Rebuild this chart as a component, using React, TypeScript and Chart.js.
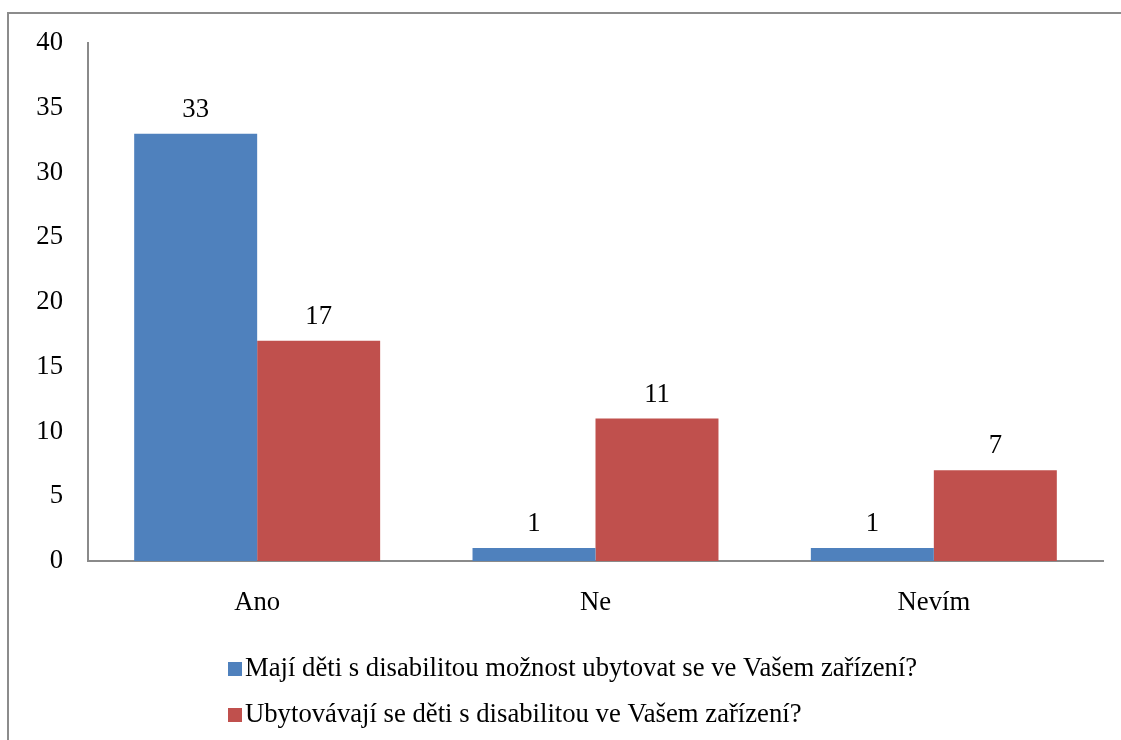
import React, { useEffect, useRef } from "react";
import { Chart, registerables } from "chart.js";

Chart.register(...registerables);

const categories = ["Ano", "Ne", "Nevím"];
const seriesNames = [
  "Mají děti s disabilitou možnost ubytovat se ve Vašem zařízení?",
  "Ubytovávají se děti s disabilitou ve Vašem zařízení?",
];
const seriesA = [33, 1, 1];
const seriesB = [17, 11, 7];
const colors = ["#4F81BD", "#C0504D"];
const yMin = 0;
const yMax = 40;
const yStep = 5;

const FONT = "'Liberation Serif', 'Times New Roman', serif";
const FONT_SIZE = 26.7;

const valueLabels = {
  id: "valueLabels",
  afterDatasetsDraw(chart: any) {
    const ctx = chart.ctx;
    ctx.save();
    ctx.font = `${FONT_SIZE}px ${FONT}`;
    ctx.fillStyle = "#000";
    ctx.textAlign = "center";
    ctx.textBaseline = "alphabetic";
    chart.data.datasets.forEach((ds: any, i: number) => {
      const meta = chart.getDatasetMeta(i);
      meta.data.forEach((bar: any, j: number) => {
        ctx.fillText(String(ds.data[j]), bar.x, bar.y - 17);
      });
    });
    ctx.restore();
  },
};

const customLegend = {
  id: "customLegend",
  afterDraw(chart: any) {
    const ctx = chart.ctx;
    const area = chart.chartArea;
    ctx.save();
    ctx.font = `${FONT_SIZE}px ${FONT}`;
    ctx.textBaseline = "alphabetic";
    ctx.textAlign = "left";
    const x0 = 228;
    chart.data.datasets.forEach((ds: any, i: number) => {
      const base = area.bottom + 115 + i * 46;
      ctx.fillStyle = ds.backgroundColor;
      ctx.fillRect(x0, base - 14, 14, 14);
      ctx.fillStyle = "#000";
      ctx.fillText(ds.label, x0 + 17, base);
    });
    ctx.restore();
  },
};

export default function App() {
  const ref = useRef<HTMLCanvasElement>(null);
  useEffect(() => {
    if (!ref.current) return;
    const chart = new Chart(ref.current, {
      type: "bar",
      data: {
        labels: categories,
        datasets: [
          { label: seriesNames[0], data: seriesA, backgroundColor: colors[0], categoryPercentage: 0.727, barPercentage: 1 },
          { label: seriesNames[1], data: seriesB, backgroundColor: colors[1], categoryPercentage: 0.727, barPercentage: 1 },
        ],
      },
      options: {
        responsive: false,
        animation: false,
        layout: { padding: { top: 43, right: 18, left: 0, bottom: 0 } },
        plugins: {
          legend: { display: false },
          tooltip: { enabled: false },
        },
        scales: {
          x: {
            grid: { display: false, drawTicks: false },
            border: { display: true, color: "#8a8a8a", width: 2 },
            ticks: {
              padding: 26,
              color: "#000",
              font: { family: FONT, size: FONT_SIZE },
            },
            afterFit(scale: any) {
              scale.height = 179;
            },
          },
          y: {
            min: yMin,
            max: yMax,
            grid: { display: false, drawTicks: false },
            border: { display: true, color: "#8a8a8a", width: 2 },
            ticks: {
              stepSize: yStep,
              padding: 25,
              color: "#000",
              font: { family: FONT, size: FONT_SIZE },
            },
            afterFit(scale: any) {
              scale.width = 88;
            },
          },
        },
      },
      plugins: [valueLabels, customLegend],
    });
    return () => chart.destroy();
  }, []);
  return (
    <div style={{ position: "fixed", left: 0, top: 0, width: 1121, height: 740, background: "#fff" }}>
      <div
        style={{
          position: "absolute",
          left: 7,
          top: 12,
          right: 0,
          bottom: 0,
          borderLeft: "2px solid #8c8c8c",
          borderTop: "2px solid #8c8c8c",
        }}
      />
      <canvas ref={ref} width={1121} height={740} style={{ position: "absolute", left: 0, top: 0 }} />
    </div>
  );
}
